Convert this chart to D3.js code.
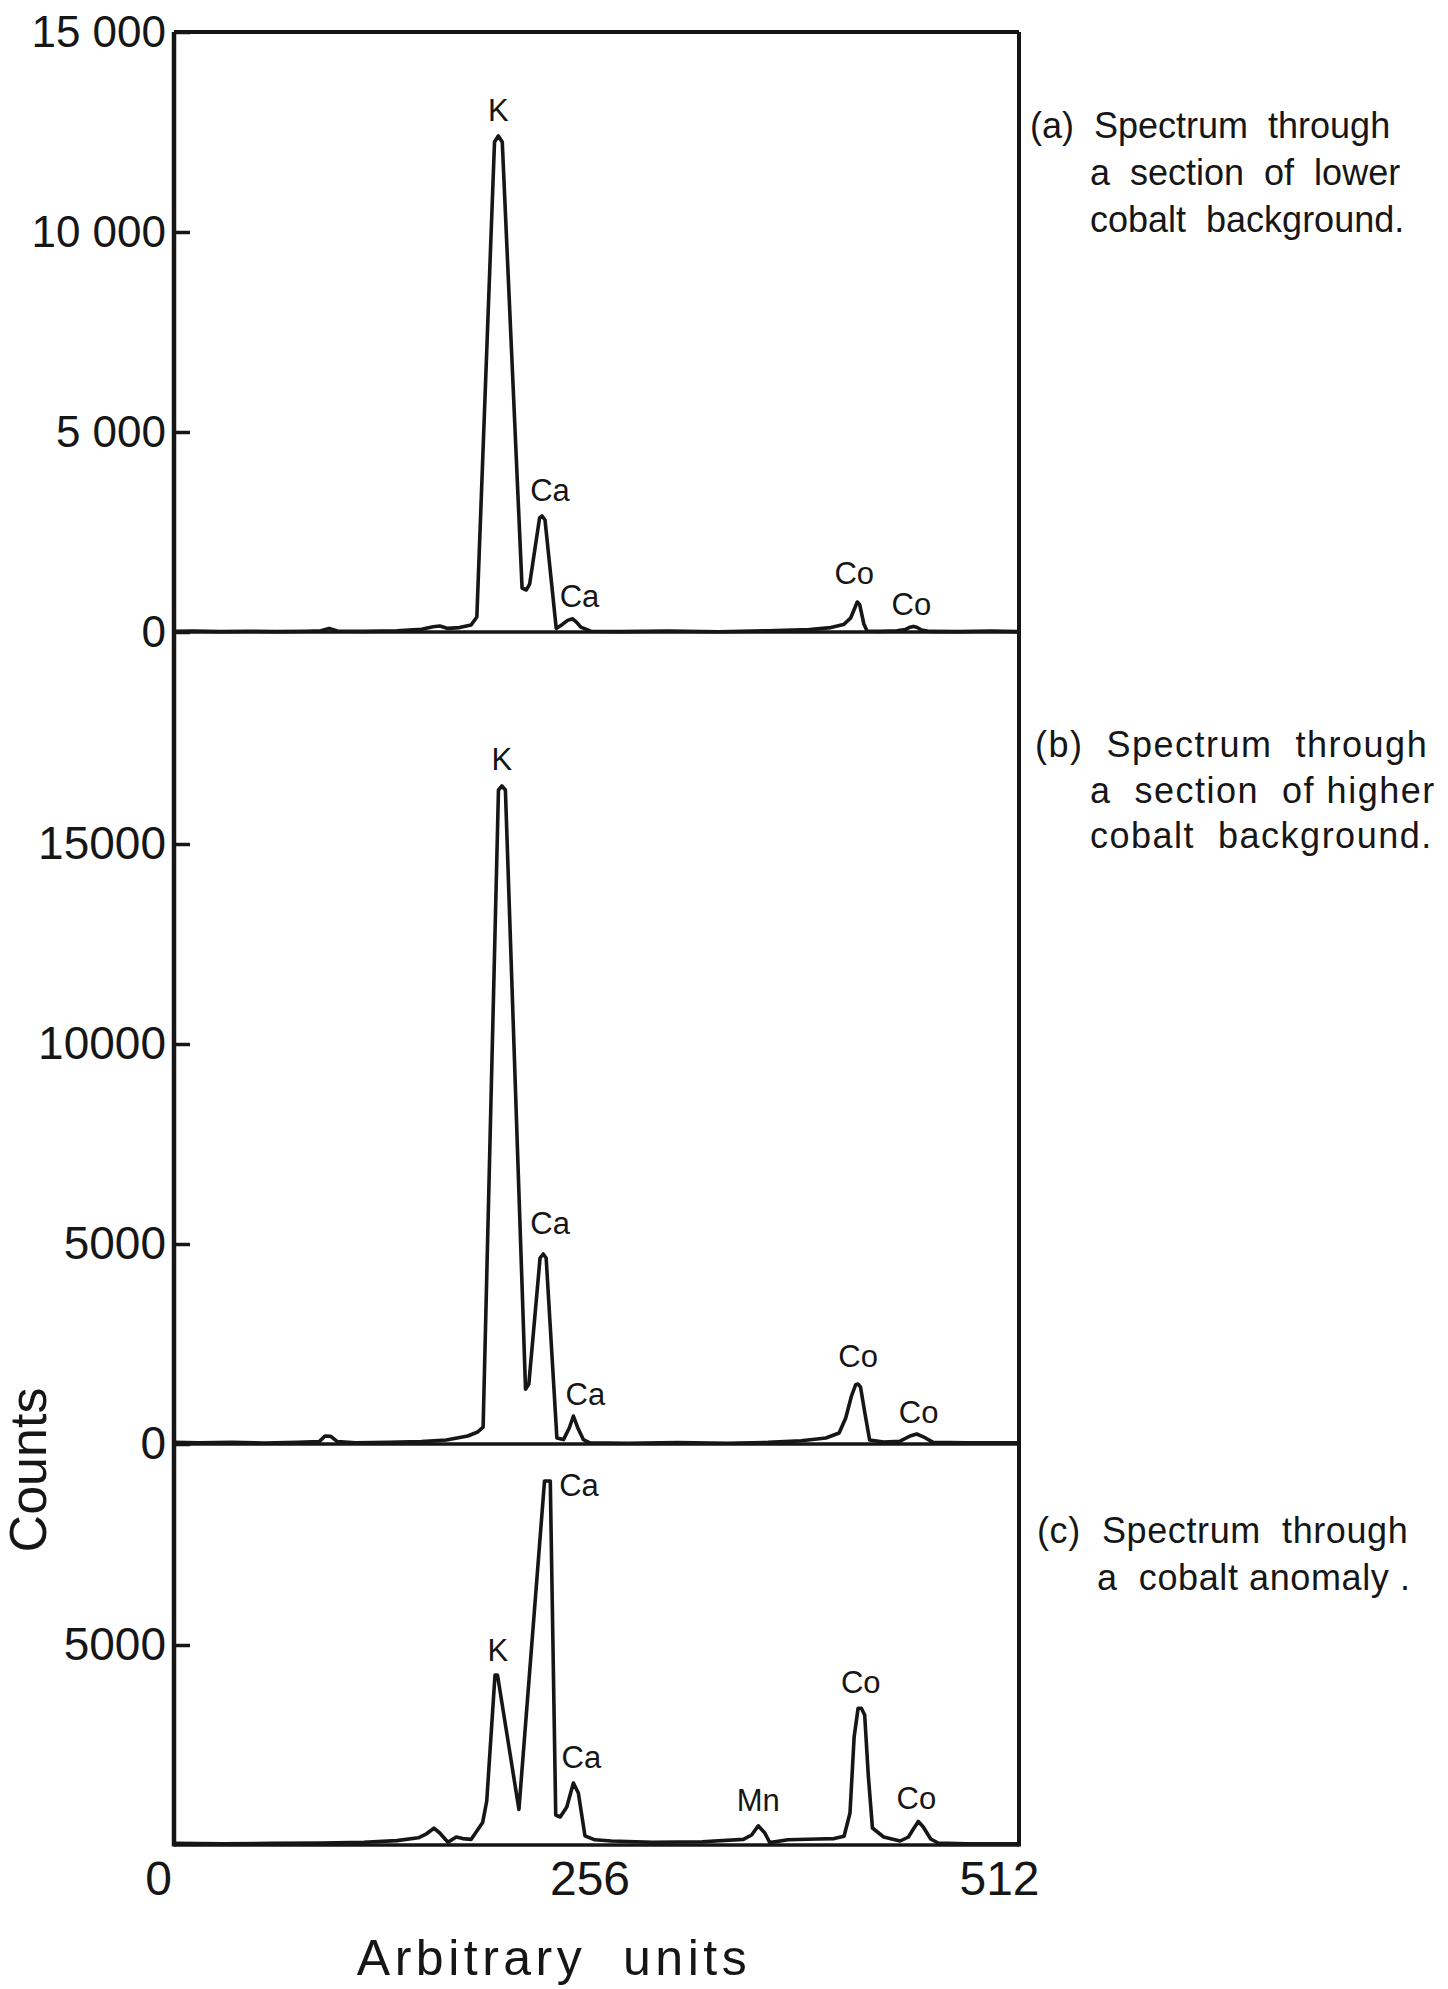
<!DOCTYPE html>
<html>
<head>
<meta charset="utf-8">
<script src="https://cdn.jsdelivr.net/npm/d3@7"></script>
<style>
  body { margin: 0; background: #fff; }
  svg text { font-family: "Liberation Sans", Arial, sans-serif; fill: #161616; }
</style>
</head>
<body>
<script>
// ---- data (channel, counts) ----

// (a) lower cobalt background
const chanA = [0, 12, 28, 45, 62, 80, 89, 94, 99, 115, 135, 150, 157, 161, 166, 173, 180, 183.5, 194.2, 196.5,
  198.9, 210.9, 213.5, 215.5, 221.5, 223, 224.8, 231.6, 235.3, 238.5, 241.5, 244, 246.5, 252.5, 270, 300, 330, 360, 385, 398,
  405.7, 410, 412.5, 414, 415.5, 418, 420, 428, 438, 443, 446, 448, 450, 453, 458, 475, 495, 512];
const countA = [15, 25, 10, 20, 10, 20, 30, 90, 25, 15, 30, 70, 130, 150, 90, 110, 175, 375, 12250, 12400,
  12250, 1100, 1050, 1200, 2850, 2900, 2800, 90, 190, 290, 330, 240, 120, 20, 10, 25, 5, 30, 60, 110,
  185, 350, 600, 750, 680, 200, 20, 15, 30, 60, 120, 140, 120, 50, 15, 10, 25, 10];

// (b) higher cobalt background
const chanB = [0, 15, 35, 55, 75, 88, 91.5, 95, 99, 110, 130, 150, 165, 178, 184, 187.3, 196.6, 198.7, 200.8, 213,
  215, 221.8, 223.7, 225.5, 232, 236, 239.5, 242, 244.5, 248, 252, 275, 305, 335, 360, 380, 395, 403, 407, 410.5,
  413, 414.5, 416, 418.5, 421.5, 430, 440, 446, 450, 454, 460, 480, 512];
const countB = [40, 30, 40, 25, 40, 60, 200, 190, 60, 30, 40, 60, 100, 200, 300, 420, 16350, 16450, 16350, 1370,
  1500, 4650, 4750, 4650, 150, 110, 400, 700, 420, 110, 30, 20, 35, 20, 40, 80, 150, 275, 650, 1200,
  1480, 1500, 1420, 800, 100, 50, 70, 200, 250, 180, 40, 30, 30];

// (c) cobalt anomaly
const chanC = [0, 30, 60, 90, 115, 135, 148, 153, 157.5, 161, 166, 171, 175, 180, 187, 189.5, 194.5, 196, 209, 224.5,
  228, 231.3, 234, 238, 242, 245, 249, 255, 265, 290, 320, 345, 350, 354, 358, 361, 372, 390, 400, 406,
  409.6, 412.1, 414.5, 416.5, 418.5, 420.7, 423.2, 430, 440, 445, 448, 451, 454, 458.5, 463, 480, 512];
const countC = [40, 30, 40, 50, 70, 110, 180, 280, 420, 300, 70, 200, 160, 140, 560, 1100, 4250, 4250, 890, 9100,
  9100, 750, 700, 950, 1550, 1300, 230, 130, 100, 70, 80, 140, 250, 480, 300, 60, 130, 150, 160, 220,
  800, 2700, 3420, 3420, 3250, 1730, 425, 200, 100, 200, 400, 590, 450, 150, 50, 30, 30];

// peak names and the channel of each peak
const labelsA = ['K', 'Ca', 'Ca', 'Co', 'Co'];
const labelChanA = [196.5, 223, 241.5, 414, 448];
const labelsB = ['K', 'Ca', 'Ca', 'Co', 'Co'];
const labelChanB = [198.7, 223.7, 242, 414.5, 450];
const labelsC = ['K', 'Ca', 'Ca', 'Mn', 'Co', 'Co'];
const labelChanC = [195, 226, 242, 354, 415.5, 451];

// tick values
const ticksA = [0, 5000, 10000, 15000];
const ticksB = [0, 5000, 10000, 15000];
const ticksC = [5000];
const xTicks = [0, 256, 512];

// captions
const notesA = ['(a)  Spectrum  through', 'a  section  of  lower', 'cobalt  background.'];
const notesB = ['(b)  Spectrum  through', 'a  section  of higher', 'cobalt  background.'];
const notesC = ['(c)  Spectrum  through', 'a  cobalt anomaly .'];


// ---- drawing ----
const ink = '#161616';

const svg = d3.select('body').append('svg')
            .attr('width', 1448)
            .attr('height', 1989);

const x = d3.scaleLinear().domain([0, 512]).range([174, 1019]);
const yA = d3.scaleLinear().domain([0, 15000]).range([632, 32]);
const yB = d3.scaleLinear().domain([0, 20300]).range([1444, 632]);
const yC = d3.scaleLinear().domain([0, 10025]).range([1845, 1444]);

const spaced = d => d3.format(',')(d).replace(',', ' ');

const panels = [
  { chan: chanA, count: countA, y: yA, ticks: ticksA, fmt: spaced, tickFont: 44,
    labels: labelsA, labelChan: labelChanA,
    offs: [[0, -15], [8, -15], [7, -12], [-3, -18], [-2, -11]],
    notes: notesA, noteX: [1030, 1090], noteY: 138, noteGap: 47, ls: 0 },
  { chan: chanB, count: countB, y: yB, ticks: ticksB, fmt: d3.format('d'), tickFont: 46,
    labels: labelsB, labelChan: labelChanB,
    offs: [[0, -16], [7, -20], [12, -11], [0, -17], [2, -11]],
    notes: notesB, noteX: [1035, 1090], noteY: 757, noteGap: 45.5, ls: 1.5 },
  { chan: chanC, count: countC, y: yC, ticks: ticksC, fmt: d3.format('d'), tickFont: 46,
    labels: labelsC, labelChan: labelChanC,
    offs: [[2, -14], [32, 15], [8, -15], [0, -15], [1, -15], [-2, -12]],
    notes: notesC, noteX: [1037, 1097], noteY: 1543, noteGap: 47, ls: 0.6 }
];

// highest count near a channel, used to sit the peak name on the peak
function peakCount(chan, count, c) {
  let m = 0;
  chan.forEach((v, i) => { if (Math.abs(v - c) <= 2.6 && count[i] > m) m = count[i]; });
  return m;
}

panels.forEach(p => {
  // y axis with inward ticks
  const ax = svg.append('g')
      .attr('transform', `translate(${x(0)},0)`)
      .call(d3.axisLeft(p.y).tickValues(p.ticks).tickFormat(p.fmt)
            .tickSize(-16).tickPadding(8));
  ax.select('.domain').remove();
  ax.selectAll('.tick line').attr('stroke', ink).attr('stroke-width', 3.5);
  ax.selectAll('.tick text').attr('font-size', p.tickFont).attr('fill', ink)
      .attr('font-family', '"Liberation Sans", Arial, sans-serif');

  // baseline of the panel
  svg.append('line')
      .attr('x1', x(0)).attr('x2', x(512))
      .attr('y1', p.y(0)).attr('y2', p.y(0))
      .attr('stroke', ink).attr('stroke-width', 3.5);

  // spectrum
  const pts = p.chan.map((c, i) => [c, p.count[i]]);
  svg.append('path')
      .datum(pts)
      .attr('d', d3.line().x(d => x(d[0])).y(d => p.y(d[1])))
      .attr('fill', 'none')
      .attr('stroke', ink)
      .attr('stroke-width', 3.6)
      .attr('stroke-linejoin', 'round')
      .attr('stroke-linecap', 'round');

  // peak names
  p.labels.forEach((name, i) => {
    const c = p.labelChan[i];
    svg.append('text')
        .text(name)
        .attr('text-anchor', 'middle')
        .attr('x', x(c) + p.offs[i][0])
        .attr('y', p.y(peakCount(p.chan, p.count, c)) + p.offs[i][1])
        .attr('font-size', 31);
  });

  // caption at the right
  p.notes.forEach((line, i) => {
    svg.append('text')
        .text(line)
        .attr('x', i === 0 ? p.noteX[0] : p.noteX[1])
        .attr('y', p.noteY + i * p.noteGap)
        .attr('font-size', 36)
        .attr('letter-spacing', p.ls)
        .style('white-space', 'pre');
  });
});

// outer frame: left, right and top
svg.append('line')
    .attr('x1', x(0)).attr('x2', x(0))
    .attr('y1', yA(15000)).attr('y2', yC(0) + 1.5)
    .attr('stroke', ink).attr('stroke-width', 4.5);
svg.append('line')
    .attr('x1', x(512)).attr('x2', x(512))
    .attr('y1', yA(15000)).attr('y2', yC(0) + 1.5)
    .attr('stroke', ink).attr('stroke-width', 4);
svg.append('line')
    .attr('x1', x(0)).attr('x2', x(512))
    .attr('y1', yA(15000)).attr('y2', yA(15000))
    .attr('stroke', ink).attr('stroke-width', 4);

// x axis labels under the bottom panel
const xa = svg.append('g')
    .attr('transform', `translate(0,${yC(0)})`)
    .call(d3.axisBottom(x).tickValues(xTicks).tickSize(0).tickPadding(16));
xa.select('.domain').remove();
const xShift = [-16, -7, -20];
xa.selectAll('.tick text')
    .attr('font-size', 48)
    .attr('fill', ink)
    .attr('font-family', '"Liberation Sans", Arial, sans-serif')
    .attr('dx', (d, i) => xShift[i]);

// axis titles
svg.append('text')
    .text('Arbitrary  units')
    .attr('x', 554)
    .attr('y', 1975)
    .attr('text-anchor', 'middle')
    .attr('font-size', 50)
    .attr('letter-spacing', 4.5)
    .style('white-space', 'pre');

svg.append('text')
    .text('Counts')
    .attr('transform', 'translate(46,1470) rotate(-90)')
    .attr('text-anchor', 'middle')
    .attr('font-size', 52);
</script>
</body>
</html>
